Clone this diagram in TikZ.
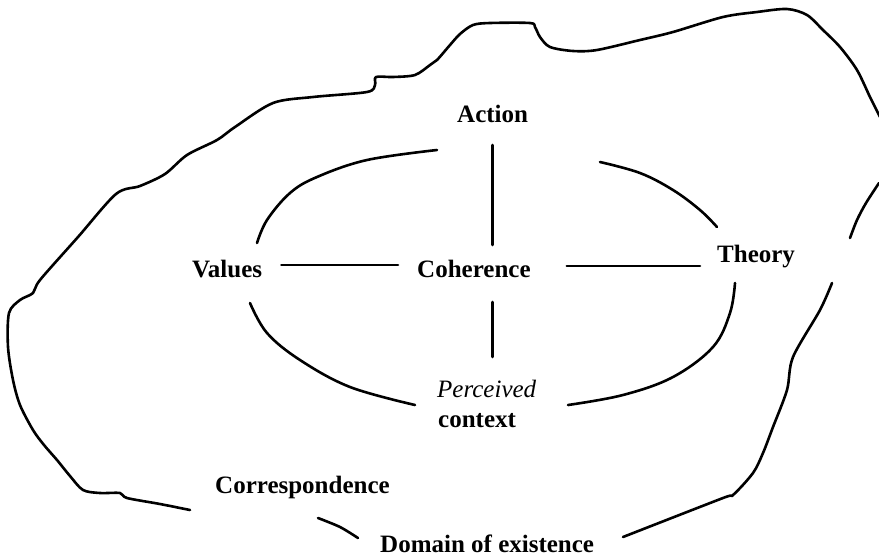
\documentclass[tikz,border=0pt]{standalone}
\usepackage{fontspec}
\setmainfont{Liberation Serif}
\usetikzlibrary{calc}
\begin{document}
\begin{tikzpicture}[x=1pt,y=-1pt,
  stroke/.style={line width=2.6pt, line cap=round, line join=round},
  lbl/.style={inner sep=0pt, anchor=base west, font=\fontsize{25pt}{30pt}\selectfont\bfseries},
  lblit/.style={lbl, font=\fontsize{25pt}{30pt}\selectfont\itshape}]
\fill[white] (0,0) rectangle (879,558);
\useasboundingbox (0,0) rectangle (879,558);

% labels
\node[lbl] (act) at (457,122) {Action};
\node[lbl] (val) at (192,277) {Values};
\node[lbl] (coh) at (417,277) {Coherence};
\node[lbl] (theo) at (717,262) {Theory};
\node[lblit] (per) at (437,397) {Perceived};
\node[lbl] (ctx) at (438,427) {context};
\node[lbl] (corr) at (215,493) {Correspondence};
\node[lbl] (dom) at (380,552) {Domain of existence};

% cross of connectors around Coherence
\draw[stroke] ($(act.base)+(0,23)$) -- ($(coh.base -| act.base)+(0,-32)$);
\draw[stroke] ($(coh.base -| act.base)+(0,25)$) -- ($(per.base -| act.base)+(0,-40)$);
\draw[stroke] ($(val.base east)+(19,-12)$) -- ($(coh.base west)+(-19,-12)$);
\draw[stroke] ($(coh.base east)+(36,-11)$) -- ($(theo.base west)+(-17,4)$);

% the four arcs of the ellipse
\draw[stroke] plot[smooth, tension=0.6] coordinates {(257,243) (267,220) (290,193) (317,177) (367,160) (437,150)};
\draw[stroke] plot[smooth, tension=0.6] coordinates {(600,162) (640,173) (673,190) (700,210) (717,227)};
\draw[stroke] plot[smooth, tension=0.6] coordinates {(250,303) (267,333) (300,360) (350,387) (415,405)};
\draw[stroke] plot[smooth, tension=0.6] coordinates {(735,283) (730,313) (713,347) (673,377) (623,395) (568,405)};

% outer boundary: domain of existence
\draw[stroke] plot[smooth, tension=0.5] coordinates {
  (190,510) (160,504) (127,498) (120,493) (100,493) (83,490) (70,476) (57,460)
  (44,445) (33,430) (20,405) (13,380) (8,347) (9,313) (20,300) (33,293) (40,280)
  (78,237) (116,194) (140,186) (165,174) (187,155) (217,140) (235,127) (273,103)
  (313,97) (367,92) (375,85) (376,77) (393,77) (415,75) (430,65) (437,60)
  (450,45) (460,34) (473,25) (490,23) (530,23) (535,27) (540,37) (550,47)
  (573,51) (597,50) (640,40) (673,32) (723,17) (757,12) (787,9) (807,15)
  (823,30) (840,47) (857,70) (870,97) (880,117)};
\draw[stroke] plot[smooth, tension=0.5] coordinates {(879,183) (866,203) (857,220) (850,238)};
\draw[stroke] plot[smooth, tension=0.5] coordinates {
  (832,283) (820,310) (793,357) (787,390) (773,427) (763,453) (753,473)
  (733,495) (723,498) (623,537)};
\draw[stroke] plot[smooth, tension=0.5] coordinates {(318,518) (340,527) (358,538)};
\end{tikzpicture}
\end{document}
